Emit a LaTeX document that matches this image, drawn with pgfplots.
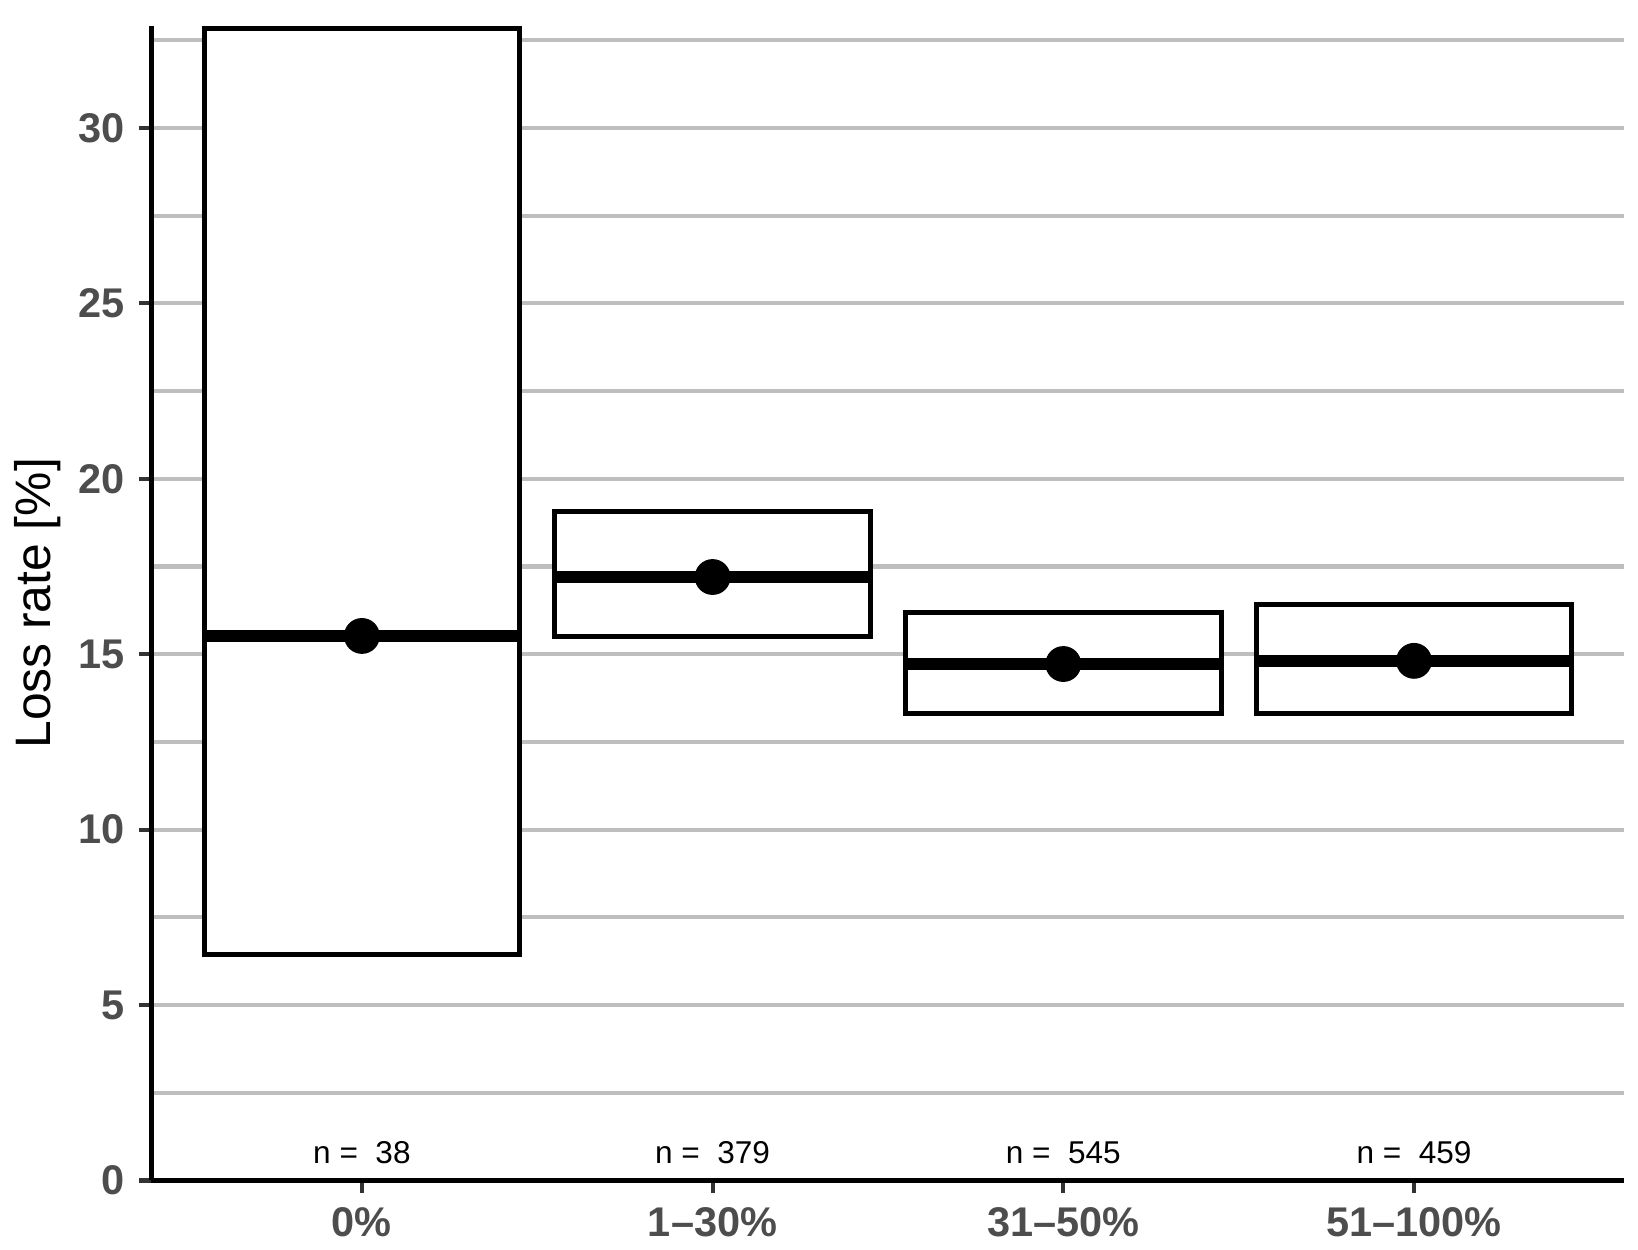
\documentclass[border=0pt]{standalone}
\usepackage{pgfplots}
\pgfplotsset{compat=1.18}
\usepackage{fontspec}
\setmainfont{Liberation Sans}
\definecolor{ticklab}{HTML}{4D4D4D}
\definecolor{tickmk}{HTML}{333333}
\definecolor{gridc}{HTML}{BEBEBE}
\begin{document}
\begin{tikzpicture}
\useasboundingbox (-36.36bp,-16.70bp) rectangle (356.76bp,283.3bp);
\begin{axis}[
  at={(0,0)}, anchor=south west,
  scale only axis, width=353.5bp, height=277.0bp,
  xmin=0.4, xmax=4.6, ymin=0, ymax=32.9,
  axis lines*=left,
  axis line style={black, line width=1.3bp},
  xtick={1,2,3,4},
  xticklabels={0\%,1--30\%,31--50\%,51--100\%},
  ytick={0,5,...,30},
  minor ytick={2.5,7.5,...,32.5},
  ymajorgrids, yminorgrids,
  major grid style={gridc, line width=1bp},
  minor grid style={gridc, line width=1bp},
  tick align=outside,
  major tick length=3bp, minor tick length=0pt,
  tick style={tickmk, line width=1bp},
  /pgf/number format/assume math mode=true,
  ticklabel style={font=\fontsize{10}{12}\selectfont\bfseries, text=ticklab},
  ylabel={Loss rate [\%]},
  ylabel style={font=\fontsize{12}{14}\selectfont, at={(axis description cs:0,0.5)}, yshift=27.3bp, anchor=center},
  clip=false,
]
% boxes
\addplot[draw=black, fill=white, line width=1.2bp] coordinates {(0.55,6.45) (1.45,6.45) (1.45,32.83) (0.55,32.83)} -- cycle;
\addplot[draw=black, fill=white, line width=1.2bp] coordinates {(1.55,15.50) (2.45,15.50) (2.45,19.08) (1.55,19.08)} -- cycle;
\addplot[draw=black, fill=white, line width=1.2bp] coordinates {(2.55,13.32) (3.45,13.32) (3.45,16.19) (2.55,16.19)} -- cycle;
\addplot[draw=black, fill=white, line width=1.2bp] coordinates {(3.55,13.30) (4.45,13.30) (4.45,16.41) (3.55,16.41)} -- cycle;
% medians
\addplot[black, line width=3bp] coordinates {(0.55,15.52) (1.45,15.52)};
\addplot[black, line width=3bp] coordinates {(1.55,17.20) (2.45,17.20)};
\addplot[black, line width=3bp] coordinates {(2.55,14.72) (3.45,14.72)};
\addplot[black, line width=3bp] coordinates {(3.55,14.81) (4.45,14.81)};
% points
\addplot[only marks, mark=*, mark size=4.1bp, black] coordinates {(1,15.52) (2,17.20) (3,14.72) (4,14.81)};
% n labels
\node[font=\fontsize{7.6}{9}\selectfont] at (axis cs:1,0.8) {n =\ \ 38};
\node[font=\fontsize{7.6}{9}\selectfont] at (axis cs:2,0.8) {n =\ \ 379};
\node[font=\fontsize{7.6}{9}\selectfont] at (axis cs:3,0.8) {n =\ \ 545};
\node[font=\fontsize{7.6}{9}\selectfont] at (axis cs:4,0.8) {n =\ \ 459};
\end{axis}
\end{tikzpicture}
\end{document}
